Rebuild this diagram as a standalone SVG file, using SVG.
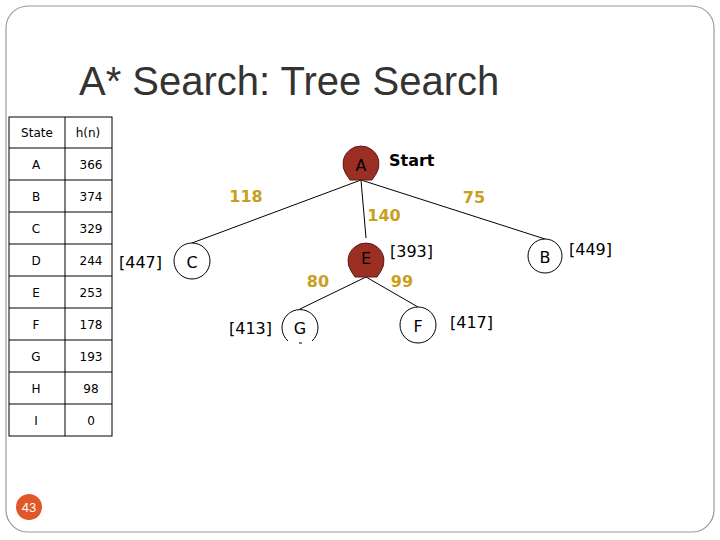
<svg xmlns="http://www.w3.org/2000/svg" width="720" height="540" viewBox="0 0 720 540">
<style>
.t{font-family:"DejaVu Sans",sans-serif;font-size:13px;fill:#000}
.tc{font-family:"DejaVu Sans",sans-serif;font-size:12px;fill:#000;text-anchor:middle}
.lbl{font-family:"DejaVu Sans",sans-serif;font-size:16px;font-weight:bold;fill:#c8a020;text-anchor:middle}
.f{font-family:"DejaVu Sans",sans-serif;font-size:16px;fill:#000}
.n{fill:#fff;stroke:#000;stroke-width:1}
.r{fill:#9b2f24;stroke:#5a1a14}
.e{stroke:#000;stroke-width:1;fill:none}
.g{stroke:#000;stroke-width:1;fill:none}
</style>
<rect x="0" y="0" width="720" height="540" fill="#fff"/>
<rect x="6" y="6" width="708" height="526" rx="22" fill="none" stroke="#9a9a9a" stroke-width="1.2"/>
<text x="79" y="95" font-family="Liberation Sans,Arial,sans-serif" font-size="40" fill="#333">A* Search: Tree Search</text>
<g id="table">
<rect x="9" y="117" width="103" height="319" class="g" stroke-width="1.5"/>
<line x1="65" y1="117" x2="65" y2="436" class="g"/>
<g class="g"><line x1="9" y1="148" x2="112" y2="148"/><line x1="9" y1="180" x2="112" y2="180"/><line x1="9" y1="212" x2="112" y2="212"/><line x1="9" y1="244" x2="112" y2="244"/><line x1="9" y1="276" x2="112" y2="276"/><line x1="9" y1="308" x2="112" y2="308"/><line x1="9" y1="340" x2="112" y2="340"/><line x1="9" y1="372" x2="112" y2="372"/><line x1="9" y1="404" x2="112" y2="404"/></g>
<text x="37" y="137" class="tc" font-size="13">State</text><text x="88" y="137" class="tc" font-size="14">h(n)</text>
<text x="36" y="169" class="tc">A</text><text x="91" y="169" class="tc">366</text>
<text x="36" y="201" class="tc">B</text><text x="91" y="201" class="tc">374</text>
<text x="36" y="233" class="tc">C</text><text x="91" y="233" class="tc">329</text>
<text x="36" y="265" class="tc">D</text><text x="91" y="265" class="tc">244</text>
<text x="36" y="297" class="tc">E</text><text x="91" y="297" class="tc">253</text>
<text x="36" y="329" class="tc">F</text><text x="91" y="329" class="tc">178</text>
<text x="36" y="361" class="tc">G</text><text x="91" y="361" class="tc">193</text>
<text x="36" y="393" class="tc">H</text><text x="91" y="393" class="tc">98</text>
<text x="36" y="425" class="tc">I</text><text x="91" y="425" class="tc">0</text>
</g>
<g id="connectors">
<line x1="361" y1="180" x2="192" y2="243" class="e"/>
<line x1="361" y1="180" x2="366" y2="238" class="e"/>
<line x1="361" y1="180" x2="545" y2="239" class="e"/>
<line x1="366" y1="277" x2="300" y2="309" class="e"/>
<line x1="366" y1="277" x2="418" y2="307" class="e"/>
<text x="246" y="202" class="lbl">118</text>
<text x="384" y="221" class="lbl">140</text>
<text x="474" y="203" class="lbl">75</text>
<text x="318" y="287" class="lbl">80</text>
<text x="402" y="287" class="lbl">99</text>
</g>
<g id="nodeA"><path d="M346,174 A18,18 0 1 1 376,174 L372,180 L350,180 Z" class="r"/><text x="361" y="171" class="f" text-anchor="middle">A</text><text x="389" y="166" class="f" font-weight="bold">Start</text></g>
<g id="nodeE"><path d="M351,271 A18,18 0 1 1 381,271 L377,277 L355,277 Z" class="r"/><text x="366" y="264" class="f" text-anchor="middle">E</text><text x="390" y="257" class="f">[393]</text></g>
<g id="nodeC"><circle cx="192" cy="261" r="18" class="n"/><text x="192" y="268" class="f" text-anchor="middle">C</text><text x="119" y="268" class="f">[447]</text></g>
<g id="nodeB"><circle cx="545" cy="256" r="17" class="n"/><text x="545" y="263" class="f" text-anchor="middle">B</text><text x="569" y="255" class="f">[449]</text></g>
<g id="nodeG"><path d="M288,341 A18,18 0 1 1 312,341" class="n"/><text x="300" y="334" class="f" text-anchor="middle">G</text><line x1="299" y1="343" x2="302" y2="343" stroke="#000"/><text x="229" y="334" class="f">[413]</text></g>
<g id="nodeF"><circle cx="418" cy="325" r="18" class="n"/><text x="418" y="332" class="f" text-anchor="middle">F</text><text x="450" y="328" class="f">[417]</text></g>
<g id="page"><circle cx="29" cy="507" r="13" fill="#e2572a"/><text x="29" y="512" font-family="Liberation Sans,sans-serif" font-size="13" fill="#fff" text-anchor="middle">43</text></g>
</svg>
